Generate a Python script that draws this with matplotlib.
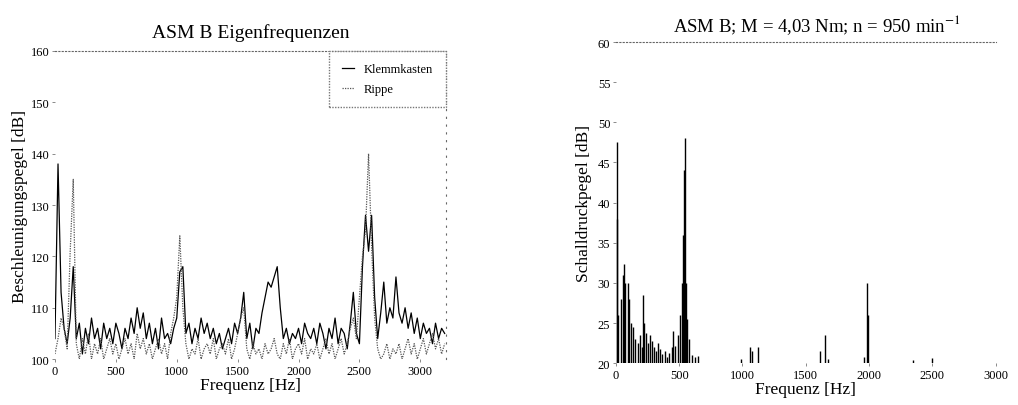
import numpy as np
import matplotlib
matplotlib.use("Agg")
import matplotlib.pyplot as plt

plt.rcParams["font.family"] = ["Liberation Serif", "DejaVu Serif"]
plt.rcParams["mathtext.fontset"] = "stix"

# left chart: acceleration level spectra, 25 Hz grid 0..3200 Hz
freq_step = 25
klemmkasten = [
    104, 138, 113, 106, 103, 108, 118, 104, 107, 101,
    106, 103, 108, 104, 106, 102, 107, 104, 106, 103,
    107, 105, 102, 106, 104, 108, 105, 110, 106, 109,
    104, 107, 103, 106, 102, 108, 104, 105, 103, 106,
    108, 117, 118, 105, 107, 103, 106, 104, 108, 105,
    107, 104, 106, 103, 105, 102, 104, 106, 103, 107,
    105, 108, 113, 104, 107, 102, 106, 105, 109, 112,
    115, 114, 116, 118, 110, 104, 106, 103, 105, 104,
    106, 103, 107, 105, 104, 106, 103, 107, 105, 102,
    106, 104, 108, 103, 106, 105, 102, 107, 113, 105,
    103, 118, 128, 121, 128, 112, 104, 109, 115, 107,
    110, 108, 116, 109, 107, 110, 106, 109, 105, 108,
    104, 107, 105, 106, 103, 107, 104, 106, 105,
]
rippe = [
    101, 104, 108, 106, 102, 121, 135, 103, 100, 104,
    101, 105, 100, 103, 101, 104, 100, 102, 104, 101,
    103, 100, 102, 104, 101, 103, 100, 105, 102, 104,
    101, 103, 100, 102, 104, 101, 103, 100, 105, 108,
    112, 124, 110, 103, 100, 102, 101, 104, 100, 102,
    103, 101, 104, 100, 102, 103, 101, 104, 100, 102,
    105, 108, 110, 102, 100, 103, 101, 102, 100, 103,
    101, 102, 104, 101, 100, 103, 101, 104, 100, 102,
    103, 101, 104, 100, 102, 101, 103, 100, 102, 104,
    101, 103, 100, 102, 104, 101, 103, 106, 108, 104,
    112, 120, 125, 140, 122, 108, 102, 100, 101, 103,
    100, 102, 101, 103, 100, 102, 104, 101, 103, 100,
    102, 104, 101, 103, 105, 102, 104, 101, 103,
]

# right chart: sound pressure spectrum lines (Hz, dB)
spl_freq = [5, 10, 15, 40, 55, 65, 75, 95, 105, 120, 135, 150, 175, 190,
            205, 215, 225, 240, 255, 270, 285, 300, 320, 335, 350, 365, 385,
            400, 420, 440, 455, 470, 490, 505, 520, 530, 540, 548, 555, 565,
            580, 600, 625, 650, 990, 1060, 1075, 1120, 1615, 1655, 1675,
            1960, 1985, 1995, 2350, 2500]
spl_level = [47.5, 38, 26, 28, 31, 32.3, 30, 30, 28, 25, 24.5, 23, 22.5, 23.5,
             22, 28.5, 25, 23.8, 22.5, 23.5, 22.8, 22, 21.5, 22.5, 21.8, 21.2, 21.5,
             20.8, 21.3, 22, 24, 22.2, 23.5, 26, 30, 36, 44, 48, 30, 25.5,
             23, 21, 20.8, 20.9, 20.5, 22, 21.5, 22, 21.5, 23.5, 20.5,
             20.8, 30, 26, 20.4, 20.6]

fig = plt.figure(figsize=(10.18, 4.06), dpi=100)
ax1 = fig.add_axes([0.054, 0.113, 0.384, 0.759])
ax2 = fig.add_axes([0.605, 0.103, 0.373, 0.791])

f = np.arange(len(klemmkasten)) * freq_step
ax1.plot(f, klemmkasten, color="black", lw=0.9, label="Klemmkasten")
ax1.plot(f, rippe, color="#555555", lw=0.9, ls=(0, (1, 1)), label="Rippe")
ax1.set_xlim(0, 3210)
ax1.set_ylim(100, 160)
ax1.set_xticks([0, 500, 1000, 1500, 2000, 2500, 3000])
ax1.set_yticks([100, 110, 120, 130, 140, 150, 160])
ax1.set_title("ASM B Eigenfrequenzen", fontsize=14, pad=10)
ax1.set_xlabel("Frequenz [Hz]", fontsize=12.5, labelpad=0)
ax1.set_ylabel("Beschleunigungspegel [dB]", fontsize=12.5, labelpad=2)
leg = ax1.legend(loc="upper right", fontsize=9, handlelength=1.0,
                 borderaxespad=0.0, borderpad=1.0, labelspacing=0.6,
                 fancybox=False, framealpha=1)
leg.get_frame().set_edgecolor("#777777")
leg.get_frame().set_linestyle((0, (1, 1)))

ax2.vlines(spl_freq, 20, spl_level, color="black", lw=1.0)
ax2.set_xlim(0, 3000)
ax2.set_ylim(20, 60)
ax2.set_xticks([0, 500, 1000, 1500, 2000, 2500, 3000])
ax2.set_yticks([20, 25, 30, 35, 40, 45, 50, 55, 60])
ax2.set_title("ASM B; M = 4,03 Nm; n = 950 min$^{-1}$", fontsize=13.5, pad=8, x=0.53)
ax2.set_xlabel("Frequenz [Hz]", fontsize=12.5, labelpad=0)
ax2.set_ylabel("Schalldruckpegel [dB]", fontsize=12.5, labelpad=4)

for ax in (ax1, ax2):
    ax.tick_params(labelsize=9, length=2, width=0.6, color="#777777", pad=2)
    for side in ("left", "bottom"):
        ax.spines[side].set_visible(False)
    ax.spines["top"].set_linestyle((0, (1, 2)))
    ax.spines["top"].set_color("#666666")
    ax.spines["right"].set_linestyle((0, (1, 6)))
    ax.spines["right"].set_color("#666666")
ax2.spines["right"].set_visible(False)

fig.savefig("out.png", dpi=100)
